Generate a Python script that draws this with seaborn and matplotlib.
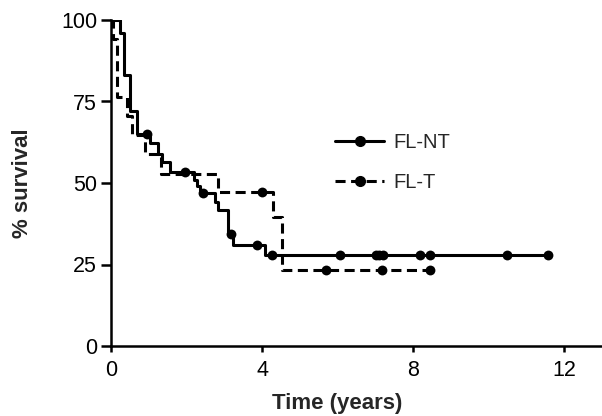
import numpy as np
import pandas as pd
import matplotlib
matplotlib.use("Agg")
import matplotlib.pyplot as plt
from matplotlib.lines import Line2D
import seaborn as sns

# Kaplan-Meier step points (time in years, % survival)
nt_time = [0.0, 0.24, 0.34, 0.50, 0.70, 1.03, 1.25, 1.34, 1.56, 2.20, 2.27, 2.35,
           2.75, 2.84, 3.10, 3.22, 4.08, 11.58]
nt_surv = [100, 96, 83, 72, 65, 62.3, 59, 56.5, 53.5, 51, 49, 47,
           44.3, 41.7, 34.5, 31, 28, 28]
nt_cens_time = [0.95, 1.96, 2.44, 3.17, 3.86, 4.26, 6.07, 7.02, 7.10, 7.20,
                8.19, 8.45, 10.48, 11.58]
nt_cens_surv = [65, 53.5, 47, 34.5, 31, 28, 28, 28, 28, 28, 28, 28, 28, 28]

t_time = [0.0, 0.04, 0.16, 0.42, 0.55, 0.90, 1.33, 2.84, 4.30, 4.52, 8.45]
t_surv = [100, 94.1, 76.5, 70.6, 64.7, 58.8, 52.9, 47.1, 39.5, 23.2, 23.2]
t_cens_time = [4.00, 5.70, 7.17, 8.45]
t_cens_surv = [47.1, 23.2, 23.2, 23.2]

x_ticks = [0, 4, 8, 12]
y_ticks = [0, 25, 50, 75, 100]

sns.set_style("ticks")
plt.rcParams["font.family"] = ["Liberation Sans", "DejaVu Sans"]

fig = plt.figure(figsize=(6.02, 4.16), dpi=100)
ax = fig.add_axes([111 / 602, 1 - 346 / 416, 491 / 602, 326 / 416])

lw = 2.2
dash = (0, (3.3, 1.8))

nt = pd.DataFrame({"t": nt_time, "s": nt_surv})
tt = pd.DataFrame({"t": t_time, "s": t_surv})

sns.lineplot(data=nt, x="t", y="s", ax=ax, color="black", lw=lw,
             drawstyle="steps-post", estimator=None, sort=False)
sns.lineplot(data=tt, x="t", y="s", ax=ax, color="black", lw=lw,
             drawstyle="steps-post", estimator=None, sort=False)
ax.lines[-1].set_linestyle(dash)

sns.scatterplot(x=nt_cens_time, y=nt_cens_surv, ax=ax, color="black", s=50,
                edgecolor="black", linewidth=0, zorder=5)
sns.scatterplot(x=t_cens_time, y=t_cens_surv, ax=ax, color="black", s=50,
                edgecolor="black", linewidth=0, zorder=5)

ax.set_xlim(0, 13)
ax.set_ylim(0, 100)
ax.set_xticks(x_ticks)
ax.set_yticks(y_ticks)
ax.tick_params(axis="both", direction="out", width=1.8, labelsize=15.5,
               color="black", labelcolor="black")
ax.tick_params(axis="x", length=4, pad=6)
ax.tick_params(axis="y", length=7, pad=3)
for side in ["left", "bottom"]:
    ax.spines[side].set_linewidth(1.8)
    ax.spines[side].set_color("black")
sns.despine(ax=ax)
for sp in ax.spines.values():
    sp.set_clip_on(False)

ax.set_xlabel("Time (years)", fontsize=16, fontweight="bold", labelpad=9)
ax.set_ylabel("% survival", fontsize=16, fontweight="bold", labelpad=20)
# x label sits under the 0-12 tick range, not the whole axis
ax.xaxis.label.set_x(6 / 13)

handles = [
    Line2D([], [], color="black", lw=lw, marker="o", markersize=7),
    Line2D([], [], color="black", lw=lw, ls=dash, marker="o", markersize=7),
]
ax.legend(handles, ["FL-NT", "FL-T"], loc="center left",
          bbox_to_anchor=(0.456, 0.564), frameon=False, fontsize=14.5,
          handlelength=2.45, handletextpad=0.45, labelspacing=1.05,
          borderpad=0, borderaxespad=0, numpoints=1)

fig.savefig("out.png", dpi=100)
